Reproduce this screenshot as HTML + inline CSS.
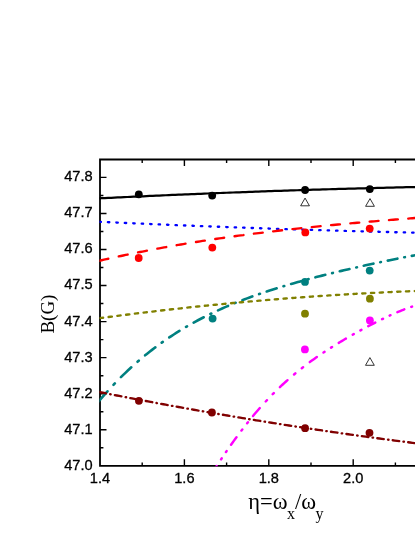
<!DOCTYPE html>
<html>
<head>
<meta charset="utf-8">
<title>B(G) vs eta</title>
<style>
html, body { margin: 0; padding: 0; background: #ffffff; }
body { width: 415px; height: 537px; overflow: hidden; font-family: "Liberation Sans", sans-serif; }
svg { display: block; will-change: transform; }
</style>
</head>
<body>
<svg width="415" height="537" viewBox="0 0 415 537">
<rect x="0" y="0" width="415" height="537" fill="#ffffff"/>
<g stroke="#000000" fill="none" stroke-linecap="butt">
<path d="M417,159.5 L100.0,159.5 L100.0,465.8 L417,465.8" stroke-width="1.8" stroke-linejoin="miter"/>
<path d="M142.20,465.8 L142.20,462.40000000000003 M142.20,159.5 L142.20,162.9 M184.40,465.8 L184.40,459.3 M184.40,159.5 L184.40,166.0 M226.60,465.8 L226.60,462.40000000000003 M226.60,159.5 L226.60,162.9 M268.80,465.8 L268.80,459.3 M268.80,159.5 L268.80,166.0 M311.00,465.8 L311.00,462.40000000000003 M311.00,159.5 L311.00,162.9 M353.20,465.8 L353.20,459.3 M353.20,159.5 L353.20,166.0 M395.40,465.8 L395.40,462.40000000000003 M395.40,159.5 L395.40,162.9 M100.0,447.78 L103.4,447.78 M100.0,429.75 L106.5,429.75 M100.0,411.73 L103.4,411.73 M100.0,393.70 L106.5,393.70 M100.0,375.68 L103.4,375.68 M100.0,357.65 L106.5,357.65 M100.0,339.62 L103.4,339.62 M100.0,321.60 L106.5,321.60 M100.0,303.57 L103.4,303.57 M100.0,285.55 L106.5,285.55 M100.0,267.53 L103.4,267.53 M100.0,249.50 L106.5,249.50 M100.0,231.48 L103.4,231.48 M100.0,213.45 L106.5,213.45 M100.0,195.43 L103.4,195.43 M100.0,177.40 L106.5,177.40" stroke-width="1.4"/>
</g>
<defs><clipPath id="c"><rect x="99.5" y="159.5" width="317.0" height="306.8"/></clipPath></defs>
<g clip-path="url(#c)" fill="none" stroke-linecap="round" stroke-linejoin="round">
<path d="M98.40,198.40 L101.60,198.24 L104.81,198.08 L108.01,197.93 L111.22,197.77 L114.42,197.61 L117.62,197.46 L120.83,197.31 L124.03,197.15 L127.24,197.00 L130.44,196.85 L133.64,196.70 L136.85,196.55 L140.05,196.41 L143.26,196.26 L146.46,196.11 L149.66,195.97 L152.87,195.82 L156.07,195.68 L159.28,195.54 L162.48,195.40 L165.68,195.25 L168.89,195.11 L172.09,194.98 L175.30,194.84 L178.50,194.70 L181.70,194.56 L184.91,194.43 L188.11,194.29 L191.32,194.16 L194.52,194.03 L197.72,193.89 L200.93,193.76 L204.13,193.63 L207.34,193.50 L210.54,193.38 L213.74,193.25 L216.95,193.12 L220.15,193.00 L223.36,192.87 L226.56,192.75 L229.76,192.62 L232.97,192.50 L236.17,192.38 L239.38,192.26 L242.58,192.14 L245.78,192.02 L248.99,191.90 L252.19,191.79 L255.40,191.67 L258.60,191.56 L261.80,191.44 L265.01,191.33 L268.21,191.22 L271.42,191.11 L274.62,190.99 L277.82,190.89 L281.03,190.78 L284.23,190.67 L287.44,190.56 L290.64,190.46 L293.84,190.35 L297.05,190.25 L300.25,190.14 L303.46,190.04 L306.66,189.94 L309.86,189.84 L313.07,189.74 L316.27,189.64 L319.48,189.54 L322.68,189.44 L325.88,189.35 L329.09,189.25 L332.29,189.16 L335.50,189.06 L338.70,188.97 L341.90,188.88 L345.11,188.79 L348.31,188.70 L351.52,188.61 L354.72,188.52 L357.92,188.43 L361.13,188.34 L364.33,188.26 L367.54,188.17 L370.74,188.09 L373.94,188.01 L377.15,187.92 L380.35,187.84 L383.56,187.76 L386.76,187.68 L389.96,187.61 L393.17,187.53 L396.37,187.45 L399.58,187.37 L402.78,187.30 L405.98,187.23 L409.19,187.15 L412.39,187.08 L415.60,187.01 L418.00,186.96" stroke="#000000" stroke-width="2.25"/>
<path d="M99.46,221.78 L100.00,221.81 L100.80,221.84 L100.84,221.85 M107.91,222.17 L108.01,222.18 L108.81,222.21 L109.29,222.23 M116.36,222.55 L116.82,222.57 L117.62,222.61 L117.75,222.62 M124.81,222.93 L124.83,222.93 L125.63,222.97 L126.20,222.99 M133.27,223.30 L133.64,223.32 L134.45,223.36 L134.65,223.37 M141.72,223.67 L142.46,223.70 L143.10,223.73 M150.17,224.03 L150.47,224.05 L151.27,224.08 L151.55,224.09 M158.62,224.39 L159.28,224.42 L160.01,224.45 M167.07,224.74 L167.29,224.75 L168.09,224.78 L168.46,224.80 M175.53,225.09 L176.10,225.11 L176.90,225.14 L176.91,225.14 M183.98,225.43 L184.11,225.43 L184.91,225.47 L185.36,225.48 M192.43,225.76 L192.92,225.78 L193.72,225.81 L193.81,225.82 M200.88,226.09 L200.93,226.10 L201.73,226.13 L202.27,226.15 M209.33,226.42 L209.74,226.43 L210.54,226.46 L210.72,226.47 M217.79,226.74 L218.55,226.77 L219.17,226.79 M226.24,227.05 L226.56,227.06 L227.36,227.09 L227.62,227.10 M234.69,227.36 L235.37,227.38 L236.07,227.41 M243.14,227.66 L243.38,227.67 L244.18,227.70 L244.53,227.71 M251.59,227.96 L252.19,227.98 L252.98,228.01 M260.05,228.25 L260.20,228.26 L261.00,228.28 L261.43,228.30 M268.50,228.54 L269.01,228.56 L269.81,228.58 L269.88,228.58 M276.95,228.82 L277.02,228.82 L277.82,228.85 L278.33,228.87 M285.40,229.10 L285.83,229.11 L286.64,229.14 L286.79,229.14 M293.85,229.37 L294.65,229.39 L295.24,229.41 M302.31,229.63 L302.66,229.64 L303.46,229.67 L303.69,229.67 M310.76,229.89 L311.47,229.91 L312.14,229.93 M319.21,230.15 L319.48,230.15 L320.28,230.18 L320.59,230.19 M327.66,230.40 L328.29,230.41 L329.05,230.44 M336.11,230.64 L336.30,230.64 L337.10,230.67 L337.50,230.68 M344.57,230.88 L345.11,230.89 L345.91,230.92 L345.95,230.92 M353.02,231.11 L353.12,231.11 L353.92,231.14 L354.40,231.15 M361.47,231.34 L361.93,231.35 L362.73,231.37 L362.85,231.38 M369.92,231.56 L369.94,231.56 L370.74,231.58 L371.31,231.60 M378.37,231.78 L378.75,231.79 L379.55,231.81 L379.76,231.81 M386.83,231.99 L387.56,232.01 L388.21,232.02 M395.28,232.20 L395.57,232.20 L396.37,232.22 L396.66,232.23 M403.73,232.40 L404.38,232.41 L405.11,232.43 M412.18,232.59 L412.39,232.60 L413.19,232.62 L413.57,232.62" stroke="#0000ff" stroke-width="2.35"/>
<path d="M99.46,260.75 L101.60,260.26 L104.01,259.71 L106.41,259.16 L108.34,258.73 M118.76,256.43 L120.83,255.99 L123.23,255.48 L125.63,254.97 L127.64,254.55 M138.06,252.41 L140.05,252.02 L142.46,251.54 L144.86,251.07 L146.94,250.66 M157.36,248.68 L159.28,248.32 L161.68,247.88 L164.08,247.44 L166.24,247.05 M176.66,245.21 L178.50,244.90 L180.90,244.49 L183.31,244.08 L185.54,243.70 M195.96,242.00 L197.72,241.72 L200.13,241.34 L202.53,240.96 L204.84,240.60 M215.26,239.02 L216.95,238.77 L219.35,238.41 L221.75,238.06 L224.14,237.72 M234.56,236.26 L236.17,236.03 L238.58,235.71 L240.98,235.38 L243.38,235.06 L243.44,235.05 M253.86,233.70 L256.20,233.40 L258.60,233.10 L261.00,232.80 L262.74,232.58 M273.16,231.32 L275.42,231.06 L277.82,230.78 L280.23,230.50 L282.04,230.29 M292.46,229.12 L294.65,228.88 L297.05,228.62 L299.45,228.36 L301.34,228.16 M311.76,227.07 L313.87,226.85 L316.27,226.61 L318.68,226.37 L320.64,226.17 M331.06,225.16 L333.09,224.96 L335.50,224.73 L337.90,224.51 L339.94,224.32 M350.36,223.36 L352.32,223.19 L354.72,222.97 L357.12,222.76 L359.24,222.58 M369.66,221.68 L371.54,221.52 L373.94,221.31 L376.35,221.11 L378.54,220.93 M388.96,220.08 L390.77,219.93 L393.17,219.74 L395.57,219.54 L397.84,219.36 M408.26,218.55 L409.99,218.41 L412.39,218.23 L414.80,218.04 L417.14,217.86" stroke="#ff0000" stroke-width="2.35"/>
<path d="M97.17,403.24 L98.82,401.27 L101.24,398.42 L103.65,395.64 L106.07,392.90 L107.47,391.34 M113.49,384.83 L114.13,384.15 L114.83,383.42 M120.95,377.19 L123.00,375.17 L125.42,372.82 L127.83,370.53 L130.25,368.28 L131.29,367.32 M137.54,361.75 L138.31,361.08 L138.78,360.68 M145.12,355.36 L147.18,353.69 L149.60,351.77 L152.02,349.88 L154.43,348.03 L155.32,347.36 M161.71,342.68 L162.49,342.12 L162.81,341.90 M169.28,337.44 L171.36,336.06 L173.78,334.48 L176.20,332.93 L178.61,331.41 L179.47,330.88 M186.02,326.94 L186.67,326.56 L187.04,326.34 M193.66,322.59 L195.54,321.56 L197.96,320.26 L200.38,318.98 L202.79,317.73 L203.75,317.24 M210.39,313.94 L210.85,313.72 L211.33,313.49 M218.03,310.35 L219.72,309.58 L222.14,308.50 L224.56,307.43 L226.97,306.39 L228.04,305.94 M234.75,303.15 L235.03,303.04 L235.62,302.80 M242.38,300.14 L244.71,299.26 L247.12,298.35 L249.54,297.46 L251.96,296.58 L252.34,296.44 M259.10,294.06 L259.22,294.02 L259.93,293.77 M266.73,291.49 L268.89,290.78 L271.31,290.00 L273.72,289.23 L276.14,288.47 L276.65,288.31 M283.45,286.24 L284.20,286.01 L284.24,286.00 M291.07,283.99 L293.07,283.42 L295.49,282.73 L297.90,282.05 L300.32,281.38 L300.97,281.20 M307.79,279.34 L308.38,279.18 L308.56,279.14 M315.41,277.33 L317.25,276.86 L319.67,276.24 L322.08,275.62 L324.50,275.01 L325.29,274.81 M332.12,273.12 L332.56,273.01 L332.89,272.93 M339.74,271.28 L341.43,270.88 L343.85,270.31 L346.26,269.74 L348.68,269.18 L349.45,269.00 M356.23,267.44 L356.74,267.33 L356.94,267.28 M363.74,265.76 L365.61,265.34 L368.03,264.81 L370.45,264.28 L372.86,263.76 L373.45,263.63 M380.23,262.18 L380.92,262.03 L380.94,262.03 M387.75,260.61 L389.79,260.19 L392.21,259.69 L394.63,259.20 L397.04,258.71 L397.44,258.63 M404.23,257.29 L404.30,257.28 L404.94,257.15 M411.75,255.85 L413.97,255.43 L416.39,254.98 L418.00,254.68" stroke="#008080" stroke-width="2.6"/>
<path d="M99.86,318.17 L101.60,317.93 L103.14,317.73 M108.60,317.01 L110.42,316.77 L111.89,316.58 M117.35,315.87 L119.23,315.63 L120.63,315.45 M126.09,314.76 L128.04,314.52 L129.38,314.35 M134.84,313.67 L136.85,313.42 L138.12,313.27 M143.58,312.60 L145.66,312.35 L146.87,312.21 M152.33,311.56 L154.47,311.31 L155.61,311.17 M161.07,310.54 L163.28,310.29 L164.36,310.16 M169.82,309.54 L172.09,309.29 L173.10,309.18 M178.56,308.57 L180.90,308.31 L181.85,308.21 M187.31,307.62 L188.91,307.45 L190.59,307.27 M196.05,306.69 L197.72,306.52 L199.34,306.35 M204.80,305.79 L206.54,305.61 L208.08,305.46 M213.54,304.91 L215.35,304.73 L216.83,304.58 M222.29,304.05 L224.16,303.87 L225.57,303.74 M231.03,303.22 L232.97,303.04 L234.32,302.91 M239.78,302.41 L241.78,302.22 L243.06,302.11 M248.52,301.62 L250.59,301.44 L251.81,301.33 M257.27,300.85 L259.40,300.67 L260.55,300.57 M266.01,300.11 L268.21,299.93 L269.30,299.84 M274.76,299.39 L277.02,299.21 L278.04,299.13 M283.50,298.70 L285.83,298.52 L286.79,298.44 M292.25,298.03 L294.65,297.85 L295.53,297.78 M300.99,297.38 L302.66,297.26 L304.28,297.14 M309.74,296.75 L311.47,296.63 L313.02,296.52 M318.48,296.15 L320.28,296.03 L321.77,295.93 M327.23,295.57 L329.09,295.45 L330.51,295.36 M335.97,295.02 L337.90,294.90 L339.26,294.81 M344.72,294.48 L346.71,294.37 L348.00,294.29 M353.46,293.97 L355.52,293.86 L356.75,293.79 M362.21,293.49 L364.33,293.37 L365.49,293.31 M370.95,293.03 L373.14,292.91 L374.24,292.86 M379.70,292.59 L381.95,292.48 L382.98,292.43 M388.44,292.17 L390.77,292.06 L391.73,292.02 M397.19,291.78 L399.58,291.67 L400.47,291.63 M405.93,291.41 L407.59,291.34 L409.22,291.27 M414.68,291.06 L416.40,290.99 L417.96,290.94" stroke="#808000" stroke-width="2.35"/>
<path d="M215.00,468.59 L216.53,466.24 L216.69,465.98 M221.06,459.34 L221.11,459.27 L221.61,458.51 L221.73,458.33 M225.97,452.06 L226.19,451.74 L226.62,451.12 M231.04,444.76 L232.30,442.99 L233.82,440.86 L235.35,438.75 L236.47,437.22 M241.44,430.56 L241.46,430.54 L241.96,429.87 L242.30,429.43 M247.13,423.22 L247.56,422.68 L247.95,422.19 M253.02,415.98 L254.18,414.59 L255.70,412.78 L257.23,411.00 L258.75,409.24 L259.80,408.05 M265.74,401.47 L266.89,400.23 L266.93,400.19 M272.71,394.17 L273.00,393.88 L273.51,393.37 L273.84,393.03 M279.91,387.10 L281.14,385.94 L282.67,384.51 L284.19,383.10 L285.72,381.72 L287.25,380.35 L287.42,380.19 M294.06,374.46 L294.37,374.20 L294.88,373.78 L295.35,373.38 M301.80,368.18 L303.02,367.23 L303.05,367.20 M309.80,362.11 L311.16,361.11 L312.68,360.01 L314.21,358.92 L315.74,357.84 L316.86,357.05 M323.50,352.53 L323.88,352.28 L324.39,351.94 L324.56,351.83 M331.00,347.66 L331.51,347.34 L332.02,347.02 L332.04,347.01 M338.75,342.86 L340.16,342.01 L341.68,341.10 L343.21,340.19 L344.74,339.29 L345.89,338.61 M352.73,334.68 L352.88,334.60 L353.39,334.31 L353.77,334.10 M360.38,330.43 L360.51,330.36 L361.02,330.09 L361.40,329.88 M368.28,326.20 L369.67,325.47 L371.19,324.68 L372.72,323.89 L374.25,323.11 L375.24,322.60 M382.07,319.20 L382.39,319.05 L382.89,318.80 L383.01,318.75 M389.62,315.62 L390.02,315.44 L390.53,315.21 L390.53,315.21 M397.42,312.17 L398.67,311.65 L400.19,311.01 L401.72,310.39 L403.25,309.79 L404.29,309.38 M411.23,306.88 L411.39,306.82 L411.89,306.65 L412.05,306.60" stroke="#ff00ff" stroke-width="2.45"/>
<path d="M99.46,392.07 L101.60,392.50 L104.01,392.97 L105.94,393.35 M110.18,394.18 L110.42,394.23 L110.66,394.28 M114.89,395.10 L116.82,395.48 L119.23,395.94 L121.38,396.36 M125.61,397.17 L125.63,397.18 L126.10,397.27 M130.33,398.08 L132.04,398.40 L134.45,398.86 L136.81,399.31 M141.05,400.11 L141.53,400.20 M145.76,401.00 L148.06,401.43 L150.47,401.88 L152.25,402.21 M156.48,402.99 L156.87,403.07 L156.97,403.08 M161.20,403.86 L163.28,404.25 L165.68,404.69 L167.68,405.05 M171.92,405.82 L172.09,405.85 L172.40,405.91 M176.63,406.67 L178.50,407.01 L180.90,407.44 L183.12,407.84 M187.35,408.59 L187.84,408.68 M192.07,409.43 L193.72,409.72 L196.12,410.14 L198.53,410.57 L198.55,410.57 M202.79,411.31 L203.27,411.40 M207.50,412.13 L209.74,412.52 L212.14,412.93 L213.99,413.25 M218.22,413.98 L218.55,414.03 L218.71,414.06 M222.94,414.78 L224.96,415.12 L227.36,415.53 L229.42,415.87 M233.66,416.58 L233.77,416.60 L234.14,416.66 M238.37,417.37 L240.18,417.67 L242.58,418.07 L244.86,418.44 M249.09,419.14 L249.58,419.22 M253.81,419.91 L256.20,420.29 L258.60,420.68 L260.29,420.96 M264.53,421.64 L265.01,421.71 L265.01,421.71 M269.24,422.39 L271.42,422.73 L273.82,423.11 L275.73,423.41 M279.96,424.08 L280.23,424.12 L280.45,424.16 M284.68,424.82 L286.64,425.12 L289.04,425.49 L291.16,425.82 M295.40,426.47 L295.45,426.48 L295.88,426.54 M300.11,427.19 L301.85,427.45 L304.26,427.82 L306.60,428.17 M310.83,428.80 L311.32,428.88 M315.55,429.51 L317.87,429.85 L320.28,430.21 L322.03,430.46 M326.27,431.08 L326.69,431.14 L326.75,431.15 M330.98,431.77 L333.09,432.07 L335.50,432.42 L337.47,432.70 M341.70,433.31 L341.90,433.34 L342.19,433.38 M346.42,433.98 L348.31,434.24 L350.72,434.58 L352.90,434.89 M357.14,435.48 L357.62,435.55 M361.85,436.13 L363.53,436.36 L365.93,436.69 L368.34,437.02 M372.57,437.59 L373.06,437.66 M377.29,438.23 L379.55,438.53 L381.95,438.85 L383.77,439.09 M388.01,439.65 L388.36,439.70 L388.49,439.72 M392.72,440.27 L394.77,440.54 L397.17,440.85 L399.21,441.11 M403.44,441.66 L403.58,441.68 L403.93,441.72 M408.16,442.26 L409.99,442.49 L412.39,442.80 L414.64,443.08" stroke="#800000" stroke-width="2.35"/>
</g>
<circle cx="138.8" cy="194.3" r="3.9" fill="#000000"/>
<circle cx="212.2" cy="195.6" r="3.9" fill="#000000"/>
<circle cx="305.1" cy="190.0" r="3.9" fill="#000000"/>
<circle cx="369.8" cy="189.1" r="3.9" fill="#000000"/>
<circle cx="138.7" cy="258.0" r="3.9" fill="#ff0000"/>
<circle cx="212.3" cy="247.6" r="3.9" fill="#ff0000"/>
<circle cx="305.3" cy="232.4" r="3.9" fill="#ff0000"/>
<circle cx="369.7" cy="228.6" r="3.9" fill="#ff0000"/>
<circle cx="212.6" cy="318.6" r="3.9" fill="#008080"/>
<circle cx="305.0" cy="281.9" r="3.9" fill="#008080"/>
<circle cx="369.7" cy="270.6" r="3.9" fill="#008080"/>
<circle cx="305.0" cy="313.7" r="3.9" fill="#808000"/>
<circle cx="369.9" cy="298.7" r="3.9" fill="#808000"/>
<circle cx="304.9" cy="349.4" r="3.9" fill="#ff00ff"/>
<circle cx="369.9" cy="320.4" r="3.9" fill="#ff00ff"/>
<circle cx="138.9" cy="400.8" r="3.9" fill="#800000"/>
<circle cx="211.9" cy="412.5" r="3.9" fill="#800000"/>
<circle cx="305.1" cy="428.2" r="3.9" fill="#800000"/>
<circle cx="369.5" cy="432.8" r="3.9" fill="#800000"/>
<path d="M300.65,205.80 L309.45,205.80 L305.05,198.10 Z" fill="#ffffff" stroke="#000000" stroke-width="0.8"/>
<path d="M365.60,206.30 L374.40,206.30 L370.00,198.60 Z" fill="#ffffff" stroke="#000000" stroke-width="0.8"/>
<path d="M365.50,365.30 L374.30,365.30 L369.90,357.60 Z" fill="#ffffff" stroke="#000000" stroke-width="0.8"/>
<g font-family="'Liberation Sans', sans-serif" font-size="14.6px" fill="#000000" stroke="#000000" stroke-width="0.3">
<text x="92.6" y="469.70" text-anchor="end">47.0</text>
<text x="92.6" y="433.65" text-anchor="end">47.1</text>
<text x="92.6" y="397.60" text-anchor="end">47.2</text>
<text x="92.6" y="361.55" text-anchor="end">47.3</text>
<text x="92.6" y="325.50" text-anchor="end">47.4</text>
<text x="92.6" y="289.45" text-anchor="end">47.5</text>
<text x="92.6" y="253.40" text-anchor="end">47.6</text>
<text x="92.6" y="217.35" text-anchor="end">47.7</text>
<text x="92.6" y="181.30" text-anchor="end">47.8</text>
<text x="100.00" y="483.3" text-anchor="middle">1.4</text>
<text x="184.40" y="483.3" text-anchor="middle">1.6</text>
<text x="268.80" y="483.3" text-anchor="middle">1.8</text>
<text x="353.20" y="483.3" text-anchor="middle">2.0</text>
</g>
<g font-family="'Liberation Serif', serif" fill="#000000">
<text transform="translate(53.8,333.6) rotate(-90)" font-size="19px">B(G)</text>
<text x="248.3" y="509.3" font-size="22.5px">η=ω</text>
<text x="287.0" y="518.7" font-size="16px">x</text>
<text x="295.0" y="509.3" font-size="22.5px">/ω</text>
<text x="315.6" y="518.7" font-size="16px">y</text>
</g>
</svg>
</body>
</html>
